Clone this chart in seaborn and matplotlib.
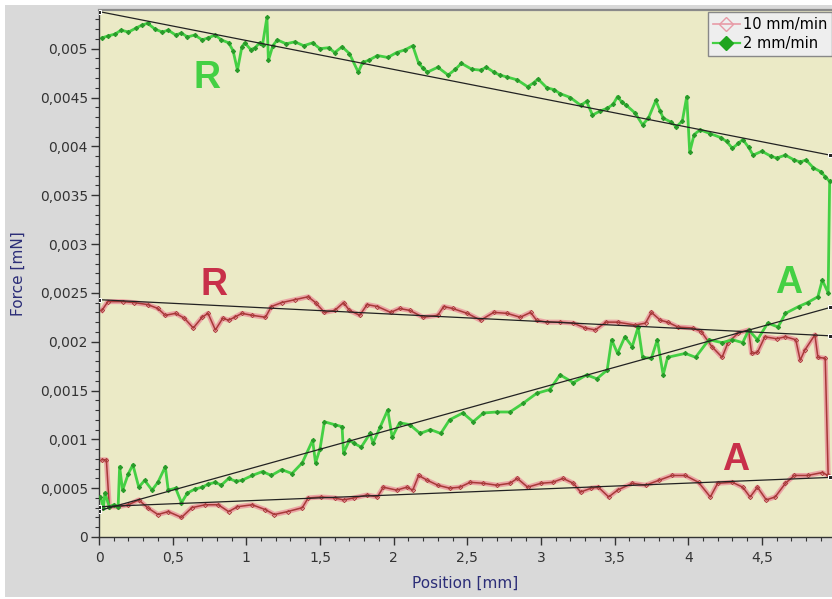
import matplotlib
matplotlib.use("Agg")
import matplotlib.pyplot as plt
import matplotlib.ticker as mticker
from matplotlib.lines import Line2D
from matplotlib.patches import Rectangle
import pandas as pd
import seaborn as sns

# values in units of 1e-4 mN, positions in mm
UNIT = 1e-4

green_a_x = [0.01, 0.03, 0.04, 0.07, 0.10, 0.13, 0.14, 0.16, 0.20, 0.23, 0.27, 0.31, 0.36, 0.40, 0.45, 0.47,
             0.52, 0.56, 0.60, 0.65, 0.70, 0.74, 0.79, 0.83, 0.88, 0.93, 0.97, 1.04, 1.11, 1.17, 1.24, 1.31,
             1.38, 1.45, 1.47, 1.50, 1.53, 1.60, 1.65, 1.66, 1.70, 1.73, 1.78, 1.84, 1.86, 1.91, 1.96, 1.99,
             2.04, 2.11, 2.18, 2.25, 2.32, 2.38, 2.47, 2.54, 2.61, 2.70, 2.79, 2.88, 2.97, 3.06, 3.13, 3.22,
             3.31, 3.38, 3.45, 3.48, 3.52, 3.57, 3.62, 3.66, 3.69, 3.75, 3.79, 3.83, 3.86, 3.98, 4.05, 4.14,
             4.23, 4.30, 4.37, 4.41, 4.47, 4.54, 4.61, 4.66, 4.75, 4.81, 4.88, 4.91, 4.95]
green_a_y = [4.1, 3.0, 4.5, 3.1, 3.3, 3.1, 7.2, 4.8, 6.5, 7.4, 5.1, 5.8, 4.8, 5.6, 7.2, 4.8,
             5.0, 3.5, 4.5, 4.9, 5.1, 5.4, 5.6, 5.3, 6.0, 5.7, 5.8, 6.3, 6.7, 6.3, 6.9, 6.5,
             7.6, 9.9, 7.6, 9.0, 11.8, 11.5, 11.3, 8.6, 9.9, 9.6, 9.2, 10.6, 9.6, 11.3, 13.0, 10.2,
             11.7, 11.5, 10.6, 11.0, 10.6, 12.0, 12.7, 11.8, 12.7, 12.8, 12.8, 13.7, 14.7, 15.1, 16.6, 15.8,
             16.6, 16.2, 17.1, 20.2, 18.8, 20.5, 19.5, 21.5, 18.4, 18.3, 20.2, 16.6, 18.4, 18.8, 18.4, 20.2,
             19.9, 20.2, 19.9, 21.2, 20.2, 21.9, 21.5, 22.9, 23.6, 24.0, 24.6, 26.3, 25.0]

green_r_x = [0.02, 0.06, 0.11, 0.15, 0.20, 0.25, 0.29, 0.33, 0.38, 0.43, 0.47, 0.52, 0.56, 0.60, 0.65, 0.70,
             0.74, 0.79, 0.83, 0.88, 0.91, 0.94, 0.97, 0.99, 1.03, 1.06, 1.09, 1.11, 1.14, 1.15, 1.18, 1.21,
             1.27, 1.33, 1.39, 1.45, 1.50, 1.56, 1.60, 1.65, 1.70, 1.76, 1.79, 1.83, 1.89, 1.96, 2.02, 2.08,
             2.13, 2.17, 2.20, 2.23, 2.30, 2.37, 2.42, 2.46, 2.53, 2.59, 2.63, 2.68, 2.72, 2.77, 2.84, 2.91,
             2.95, 2.98, 3.04, 3.09, 3.13, 3.20, 3.27, 3.31, 3.35, 3.40, 3.45, 3.49, 3.52, 3.55, 3.58, 3.64,
             3.69, 3.73, 3.78, 3.81, 3.83, 3.88, 3.92, 3.96, 3.99, 4.01, 4.04, 4.08, 4.15, 4.22, 4.26, 4.30,
             4.34, 4.37, 4.41, 4.44, 4.50, 4.56, 4.60, 4.66, 4.72, 4.76, 4.80, 4.85, 4.90, 4.93, 4.96]
green_r_y = [51.1, 51.3, 51.5, 51.9, 51.7, 52.1, 52.4, 52.6, 52.0, 51.7, 51.9, 51.4, 51.6, 51.2, 51.4, 50.9,
             51.1, 51.4, 50.9, 50.6, 49.8, 47.8, 50.2, 50.6, 49.9, 50.1, 50.6, 50.4, 53.2, 48.8, 50.3, 50.9,
             50.5, 50.7, 50.3, 50.6, 50.0, 50.1, 49.6, 50.2, 49.5, 47.6, 48.6, 48.8, 49.3, 49.1, 49.6, 49.9,
             50.3, 48.5, 48.0, 47.6, 48.1, 47.3, 47.9, 48.5, 47.9, 47.8, 48.1, 47.6, 47.3, 47.1, 46.8, 46.1,
             46.5, 46.9, 46.0, 45.8, 45.4, 45.0, 44.2, 44.6, 43.2, 43.6, 43.9, 44.3, 45.1, 44.5, 44.2, 43.4,
             42.2, 42.9, 44.7, 43.6, 42.9, 42.5, 42.0, 42.6, 45.1, 39.4, 41.2, 41.7, 41.3, 40.9, 40.5, 39.8,
             40.3, 40.7, 39.9, 39.1, 39.5, 39.0, 38.8, 39.1, 38.6, 38.4, 38.6, 37.8, 37.4, 36.9, 36.4]

red_a_x = [0.02, 0.05, 0.07, 0.13, 0.20, 0.27, 0.33, 0.40, 0.47, 0.56, 0.63, 0.72, 0.81, 0.88, 0.94, 1.04,
           1.13, 1.19, 1.28, 1.38, 1.42, 1.51, 1.60, 1.66, 1.73, 1.82, 1.89, 1.93, 2.02, 2.09, 2.13, 2.17,
           2.23, 2.30, 2.38, 2.45, 2.52, 2.61, 2.70, 2.79, 2.84, 2.91, 3.00, 3.08, 3.15, 3.22, 3.27, 3.34,
           3.39, 3.46, 3.52, 3.62, 3.71, 3.80, 3.89, 3.98, 4.07, 4.15, 4.20, 4.30, 4.37, 4.42, 4.47, 4.53,
           4.59, 4.66, 4.72, 4.81, 4.91, 4.95]
red_a_y = [7.9, 7.9, 3.1, 3.1, 3.3, 3.8, 3.0, 2.3, 2.6, 2.0, 3.0, 3.3, 3.3, 2.6, 3.1, 3.3,
           2.8, 2.3, 2.6, 3.0, 4.0, 4.1, 4.0, 3.8, 4.0, 4.3, 4.1, 5.1, 4.8, 5.1, 4.8, 6.3,
           5.8, 5.3, 5.0, 5.1, 5.6, 5.5, 5.3, 5.5, 6.0, 5.1, 5.5, 5.6, 6.0, 5.5, 4.6, 5.0,
           5.1, 4.1, 4.8, 5.5, 5.3, 5.8, 6.3, 6.3, 5.6, 4.1, 5.5, 5.6, 5.1, 4.1, 5.1, 3.8,
           4.1, 5.5, 6.3, 6.3, 6.6, 6.3]

red_r_x = [0.02, 0.06, 0.16, 0.24, 0.33, 0.40, 0.45, 0.52, 0.58, 0.64, 0.70, 0.74, 0.79, 0.84, 0.88, 0.92,
           0.97, 1.04, 1.13, 1.17, 1.24, 1.33, 1.42, 1.47, 1.53, 1.60, 1.66, 1.70, 1.77, 1.82, 1.89, 1.98,
           2.04, 2.11, 2.20, 2.30, 2.34, 2.40, 2.50, 2.59, 2.68, 2.77, 2.86, 2.93, 2.97, 3.04, 3.13, 3.22,
           3.30, 3.37, 3.44, 3.52, 3.64, 3.71, 3.75, 3.81, 3.86, 3.93, 4.03, 4.09, 4.16, 4.23, 4.27, 4.34,
           4.41, 4.43, 4.47, 4.52, 4.60, 4.66, 4.73, 4.76, 4.79, 4.86, 4.88, 4.93]
red_r_y = [23.2, 24.1, 24.1, 24.0, 23.8, 23.4, 22.7, 22.9, 22.4, 21.4, 22.5, 22.9, 21.2, 22.4, 22.2, 22.5,
           22.9, 22.7, 22.5, 23.6, 24.0, 24.3, 24.6, 24.0, 23.0, 23.2, 24.0, 23.2, 22.7, 23.8, 23.6, 23.0,
           23.4, 23.2, 22.5, 22.7, 23.6, 23.4, 22.9, 22.2, 23.0, 22.9, 22.5, 23.0, 22.2, 22.0, 22.0, 21.9,
           21.4, 21.2, 22.0, 22.0, 21.7, 21.9, 23.0, 22.2, 22.0, 21.5, 21.4, 21.0, 19.5, 18.4, 19.9, 20.9,
           21.2, 18.8, 18.9, 20.5, 20.3, 20.5, 20.2, 18.1, 19.1, 20.7, 18.4, 18.3]

fit_x = [0.0, 4.963]
green_r_fit = [53.8, 39.1]
green_a_fit = [2.7, 23.5]
red_r_fit = [24.3, 20.6]
red_a_fit = [3.1, 6.1]

series_names = ["10 mm/min", "2 mm/min"]
annotations = [("R", 0.733, 46.0, "green"), ("A", 4.68, 25.0, "green"),
               ("R", 0.78, 24.8, "red"), ("A", 4.32, 6.9, "red")]

GREEN = "#44d044"
GREEN_DARK = "#2a9a2a"
RED = "#a83838"
RED_HALO = "#eaa4a4"
RED_TEXT = "#c8304a"
NAVY = "#2c2e78"


def loop_frame(ax_, ay_, rx_, ry_):
    xs = list(ax_) + list(rx_)[::-1]
    ys = [v * UNIT for v in list(ay_) + list(ry_)[::-1]]
    return pd.DataFrame({"Position": xs, "Force": ys})


green_df = loop_frame(green_a_x, green_a_y, green_r_x, green_r_y)
red_df = loop_frame(red_a_x, red_a_y, red_r_x, red_r_y)

plt.rcParams["font.family"] = ["DejaVu Sans"]

fig = plt.figure(figsize=(8.32, 5.99), dpi=100, facecolor="white")
fig.patches.append(Rectangle((5 / 832, 2 / 599), 1.0, (597 - 5) / 599, transform=fig.transFigure,
                             facecolor="#d9d9d9", edgecolor="none", zorder=-10))
ax = fig.add_axes([99 / 832, 62 / 599, 733 / 832, 527 / 599])
ax.set_facecolor("#ebeac6")

# red series: halo + line
sns.lineplot(data=red_df, x="Position", y="Force", sort=False, estimator=None, ax=ax,
             color=RED_HALO, linewidth=3.6, zorder=2)
sns.lineplot(data=red_df, x="Position", y="Force", sort=False, estimator=None, ax=ax,
             color=RED, linewidth=1.1, marker="D", markersize=2.2, markerfacecolor="none",
             markeredgecolor=RED, markeredgewidth=0.6, zorder=3)
# green series
sns.lineplot(data=green_df, x="Position", y="Force", sort=False, estimator=None, ax=ax,
             color=GREEN, linewidth=2.0, marker="D", markersize=2.2, markerfacecolor=GREEN_DARK,
             markeredgecolor=GREEN_DARK, zorder=4)

# linear fits
for fy in (green_r_fit, green_a_fit, red_r_fit, red_a_fit):
    fdf = pd.DataFrame({"Position": fit_x, "Force": [v * UNIT for v in fy]})
    sns.lineplot(data=fdf, x="Position", y="Force", sort=False, estimator=None, ax=ax,
                 color="#222222", linewidth=0.9, marker="s", markersize=2.5, zorder=5)

for txt, x, y, c in annotations:
    ax.text(x, y * UNIT, txt, color=GREEN if c == "green" else RED_TEXT, fontsize=27,
            fontweight="bold", family=["Liberation Sans", "DejaVu Sans"], ha="center", va="baseline",
            zorder=6)

ax.set_xlim(0, 4.976)
ax.set_ylim(0, 0.005396)


def comma_fmt(v, pos):
    s = f"{v:.4f}".rstrip("0").rstrip(".")
    if s in ("-0", ""):
        s = "0"
    return s.replace(".", ",")


ax.xaxis.set_major_locator(mticker.MultipleLocator(0.5))
ax.xaxis.set_minor_locator(mticker.MultipleLocator(0.1))
ax.yaxis.set_major_locator(mticker.MultipleLocator(0.0005))
ax.yaxis.set_minor_locator(mticker.MultipleLocator(0.0001))
ax.xaxis.set_major_formatter(mticker.FuncFormatter(comma_fmt))
ax.yaxis.set_major_formatter(mticker.FuncFormatter(comma_fmt))
ax.tick_params(which="major", direction="out", length=6, width=1, color="#333333",
               labelsize=10, labelcolor="#333333", pad=2)
ax.tick_params(which="minor", direction="out", length=3, width=0.8, color="#333333")
ax.tick_params(axis="x", which="major", pad=4)

for side in ("left", "bottom"):
    ax.spines[side].set_color("#333333")
    ax.spines[side].set_linewidth(1.0)
ax.spines["top"].set_color("#8a8a8a")
ax.spines["top"].set_linewidth(1.6)
ax.spines["right"].set_visible(False)

ax.set_xlabel("Position [mm]", color=NAVY, fontsize=11, labelpad=8)
ax.set_ylabel("Force [mN]", color=NAVY, fontsize=11, labelpad=10)

handles = [
    Line2D([], [], color="#e79aa6", linewidth=1.2, marker="D", markersize=7,
           markerfacecolor="none", markeredgecolor="#e79aa6"),
    Line2D([], [], color=GREEN, linewidth=1.6, marker="D", markersize=7,
           markerfacecolor="#1fa51f", markeredgecolor="#1fa51f"),
]
leg = ax.legend(handles, series_names, loc="upper right", bbox_to_anchor=(1.0, 0.997),
                frameon=True, fancybox=False, fontsize=10.5, handlelength=1.8, handletextpad=0.2,
                borderpad=0.35, labelspacing=0.3, borderaxespad=0.0)
leg.get_frame().set_facecolor("#eeeeee")
leg.get_frame().set_edgecolor("#888888")
leg.get_frame().set_alpha(1.0)

fig.savefig("out.png", dpi=100, facecolor=fig.get_facecolor())
